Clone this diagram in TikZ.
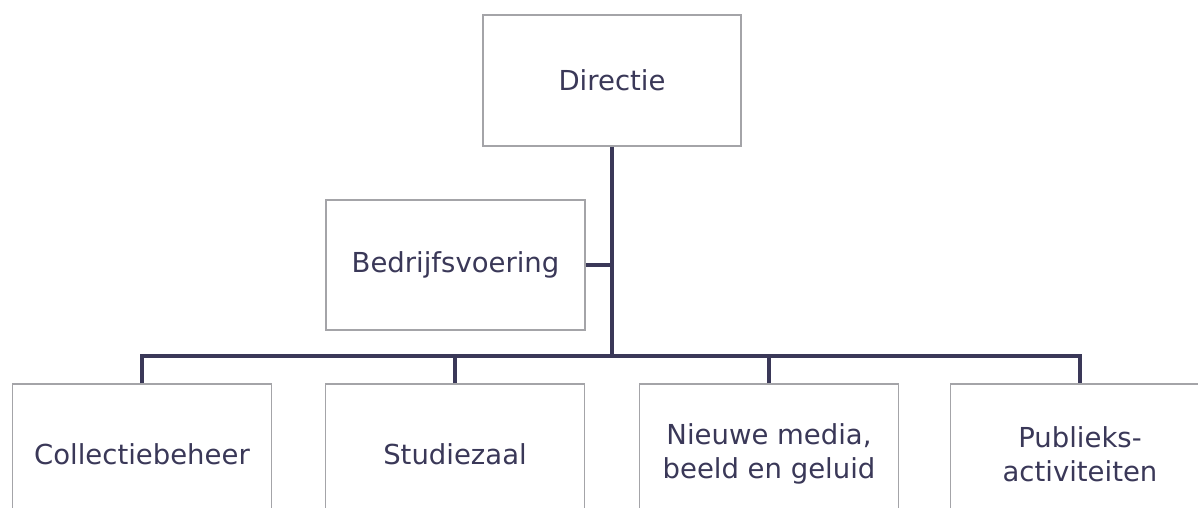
\documentclass[tikz,border=0pt]{standalone}
\usepackage{fontspec}
\setmainfont{DejaVu Sans}
\usepackage{tikz}
\usepackage{xcolor}
\definecolor{inkblue}{HTML}{3A3858}
\definecolor{boxgrey}{HTML}{A4A4A8}
\tikzset{
  unit/.style={draw=boxgrey, line width=1.2pt, fill=white, text=inkblue,
    font=\fontsize{27.5}{34}\selectfont, align=center, inner sep=0pt,
    minimum width=259pt, minimum height=130pt},
  link/.style={draw=inkblue, line width=3.6pt}
}

\begin{document}
\begin{tikzpicture}[x=1pt,y=-1pt]
                \useasboundingbox (0,0) rectangle (1198,508);
                \clip (0,0) rectangle (1198,508);

                % Top of the tree
                \node[unit, minimum width=258pt, minimum height=131pt] (dir) at (612,80.5) {Directie};
                \node[unit] (bedr) at (455.5,265) {Bedrijfsvoering};

                % Departments
                \node[unit, minimum height=140pt] (coll) at (142,454) {Collectiebeheer};
                \node[unit, minimum height=140pt] (stud) at (455,454) {Studiezaal};
                \node[unit, minimum height=140pt] (media) at (769,454) {Nieuwe media,\\beeld en geluid};
                \node[unit, minimum height=140pt] (publ) at (1080,454) {Publieks-\\activiteiten};

                % Bus line
                \coordinate (busl) at (142,356);
                \coordinate (busr) at (1080,356);
                \coordinate (busm) at (612,356);

                % Connectors
                \draw[link] (dir.south) -- (busm);
                \draw[link] (bedr.east) -- (bedr.east -| busm);
                \draw[link, line join=miter] (coll.north) -- (busl) -- (busr) -- (publ.north);
                \draw[link] (stud.north) -- (stud.north |- busl);
                \draw[link] (media.north) -- (media.north |- busl);
\end{tikzpicture}
\end{document}
